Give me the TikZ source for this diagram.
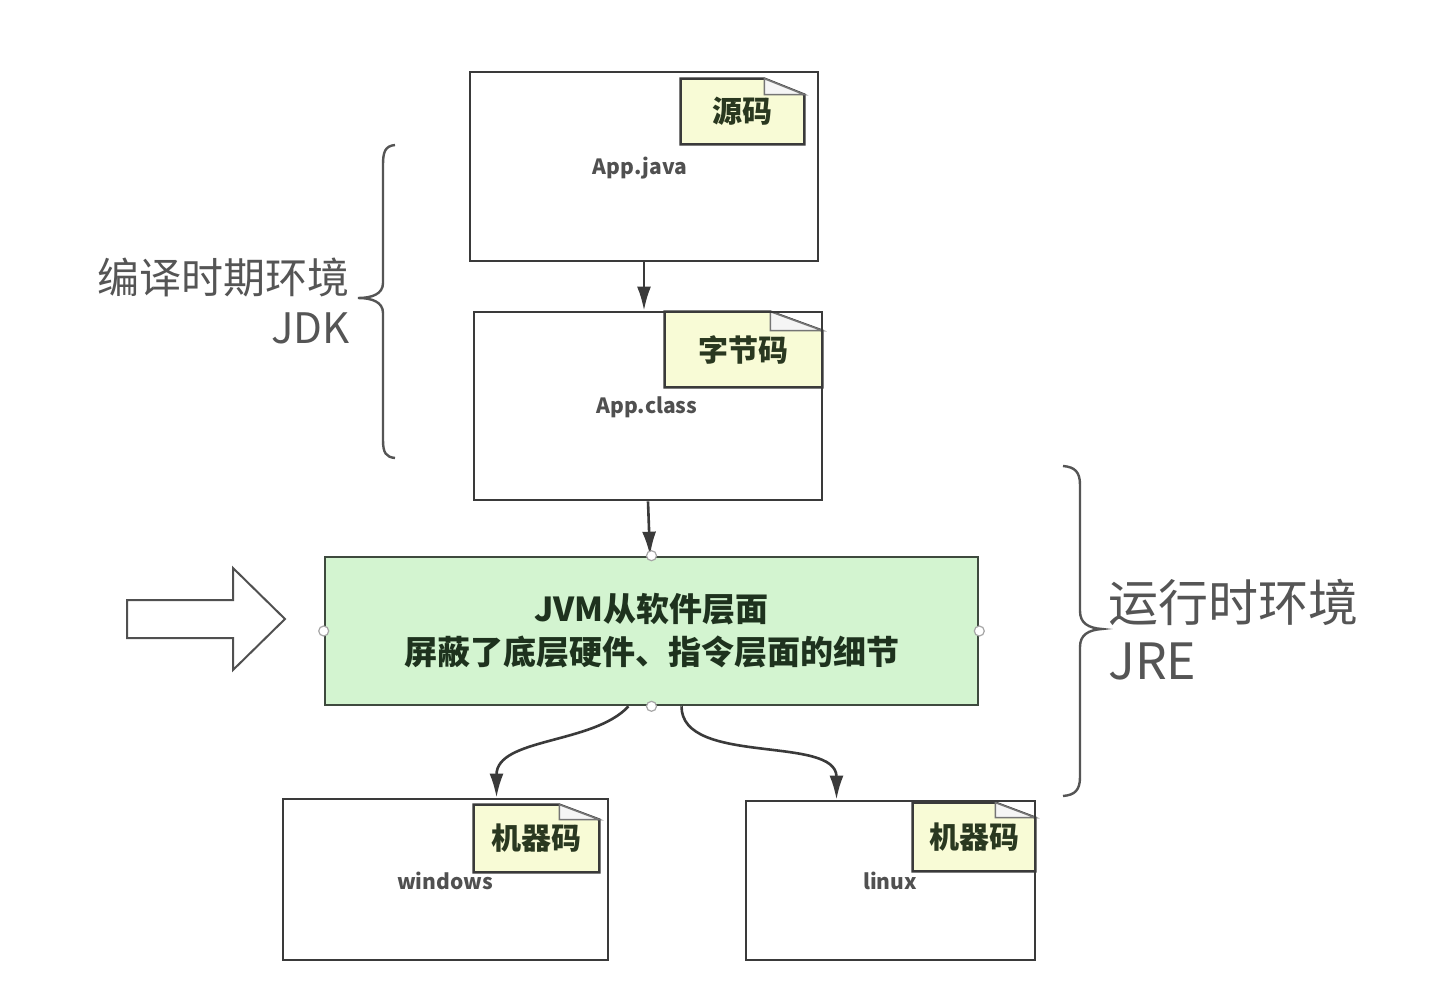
\documentclass[tikz,border=0pt]{standalone}
\usepackage{fontspec}
\setmainfont{Noto Sans CJK SC}
\usetikzlibrary{arrows.meta,backgrounds}
\definecolor{boxline}{HTML}{3A3A3A}
\definecolor{notefill}{HTML}{F8FBD6}
\definecolor{notetext}{HTML}{2A3820}
\definecolor{jvmfill}{HTML}{D3F4D0}
\definecolor{jvmline}{HTML}{3E4A3E}
\definecolor{jvmtext}{HTML}{1E321E}
\definecolor{labelgray}{HTML}{555555}
\definecolor{smallgray}{HTML}{505050}
\tikzset{
  filebox/.style={draw=boxline, line width=1.4pt, rectangle, minimum width=#1},
  notenode/.style={inner sep=0pt, font=\fontsize{15pt}{18pt}\selectfont\bfseries, text=notetext},
  noteline/.style={draw=boxline, line width=1.2pt, fill=notefill},
  foldline/.style={draw=boxline!70, line width=0.8pt, fill=white!92!gray},
  boxlabel/.style={font=\fontsize{10.5pt}{12pt}\selectfont\bfseries, text=smallgray},
  sidelabel/.style={text=labelgray, inner sep=0pt},
  flow/.style={draw=boxline, line width=1.3pt, -{Latex[length=12pt,width=7pt]}},
  handle/.style={circle, draw=gray!70, fill=white, line width=0.6pt, inner sep=0pt, minimum size=5pt},
  bracestyle/.style={draw=labelgray, line width=1.2pt}
}
\newcommand{\foldnote}[3]{%
  \begin{scope}[on background layer]
  \path[noteline] (#1.south west) -- (#1.north west) -- ([xshift=-#2]#1.north east)
     -- ([yshift=-#3]#1.north east) -- (#1.south east) -- cycle;
  \path[foldline] ([xshift=-#2]#1.north east) -- ([xshift=-#2,yshift=-#3]#1.north east)
     -- ([yshift=-#3]#1.north east) -- cycle;
  \end{scope}}
\begin{document}
\begin{tikzpicture}[x=0.5pt,y=-0.5pt]
\begin{scope}[on background layer]
\fill[white] (0,0) rectangle (1437,985);
\end{scope}
\useasboundingbox (0,0) rectangle (1437,985);

% file boxes
\node[filebox=174pt, minimum height=94.5pt] (javabox) at (644,166.5) {};
\node[filebox=174pt, minimum height=94pt] (classbox) at (648,406) {};
\node[filebox=162.5pt, minimum height=80.5pt] (winbox) at (445.5,879.5) {};
\node[filebox=144.5pt, minimum height=79.5pt] (linbox) at (890.5,880.5) {};

% notes
\node[notenode, minimum width=61.5pt, minimum height=32.5pt] (srcnote) at (742.5,111.5) {源码};
\foldnote{srcnote}{20pt}{8pt}
\node[notenode, minimum width=78.5pt, minimum height=37.5pt] (bcnote) at (743.5,349.5) {字节码};
\foldnote{bcnote}{26pt}{9.5pt}
\node[notenode, minimum width=62.5pt, minimum height=33.5pt] (winnote) at (536.5,838.5) {机器码};
\foldnote{winnote}{20pt}{7.5pt}
\node[notenode, minimum width=61pt, minimum height=34pt] (linnote) at (974,837) {机器码};
\foldnote{linnote}{20pt}{7.5pt}

% box labels
\node[boxlabel] (javalbl) at (640,168) {App.java};
\node[boxlabel] (classlbl) at (647,407) {App.class};
\node[boxlabel] (winlbl) at (445,881) {windows};
\node[boxlabel] (linlbl) at (890,881) {linux};

% JVM box
\node[draw=jvmline, fill=jvmfill, line width=1.3pt, minimum width=326.5pt, minimum height=74pt,
      align=center, text=jvmtext, font=\fontsize{16.5pt}{21.5pt}\selectfont\bfseries]
      (jvm) at (651.5,631) {JVM从软件层面\\屏蔽了底层硬件、指令层面的细节};

% connectors
\draw[flow] (javabox.south) -- (javabox.south |- classbox.north);
\draw[flow] (classbox.south) -- ([xshift=1pt]classbox.south |- jvm.north);
\draw[flow] ([xshift=-11.5pt]jvm.south) .. controls +(-35,38) and +(0,-60) .. ([xshift=25.5pt]winbox.north);
\draw[flow] ([xshift=15pt]jvm.south) .. controls +(0,60) and +(0,-65) .. ([xshift=-27pt]linbox.north);

% handles
\node[handle] (hn) at (jvm.north) {};
\node[handle] (hs) at (jvm.south) {};
\node[handle] (hw) at (jvm.west) {};
\node[handle] (he) at (jvm.east) {};

% hollow arrow
\draw[draw=smallgray, line width=1pt, fill=white, line join=miter]
  (127,600) -- (233,600) -- (233,568) -- (285,619) -- (233,670) -- (233,638) -- (127,638) -- cycle;

% braces
\draw[bracestyle] (395,145) .. controls (385,146) and (383,152) .. (383,165) -- (383,283)
  .. controls (383,294) and (372,298) .. (358,298) .. controls (372,298) and (383,302) .. (383,313)
  -- (383,440) .. controls (383,453) and (386,457) .. (395,458);
\draw[bracestyle] (1063,466) .. controls (1075,467) and (1080,472) .. (1080,485) -- (1080,611)
  .. controls (1080,623) and (1088,628) .. (1102,629) .. controls (1088,630) and (1080,635) .. (1080,647)
  -- (1080,777) .. controls (1080,790) and (1075,795) .. (1063,796);

% side labels
\node[sidelabel, anchor=east, font=\fontsize{21pt}{24pt}\selectfont] (jdkcn) at (350,277) {编译时期环境};
\node[sidelabel, anchor=east, font=\fontsize{21pt}{24pt}\selectfont] (jdk) at (350,328) {JDK};
\node[sidelabel, anchor=west, font=\fontsize{25pt}{28pt}\selectfont] (jrecn) at (1108,602) {运行时环境};
\node[sidelabel, anchor=west, font=\fontsize{25pt}{28pt}\selectfont] (jre) at (1108,661) {JRE};
\end{tikzpicture}
\end{document}
